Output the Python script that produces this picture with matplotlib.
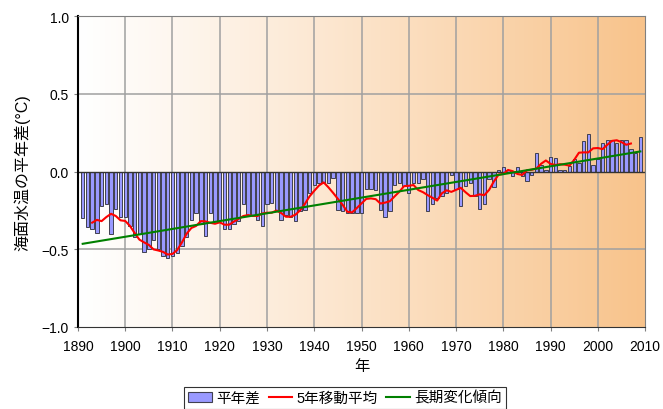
import numpy as np
import pandas as pd
import matplotlib
matplotlib.use("Agg")
import matplotlib.pyplot as plt
from matplotlib.patches import Patch
from matplotlib.lines import Line2D

plt.rcParams['font.family'] = ['Liberation Sans', 'Noto Sans CJK JP', 'DejaVu Sans']

years = list(range(1891, 2010))
anomaly = [
    -0.30, -0.36, -0.37, -0.395, -0.22, -0.21, -0.40, -0.24, -0.29, -0.29,   # 1891-1900
    -0.35, -0.42, -0.40, -0.52, -0.50, -0.44, -0.50, -0.545, -0.555, -0.545,  # 1901-1910
    -0.525, -0.48, -0.42, -0.31, -0.265, -0.34, -0.415, -0.265, -0.32, -0.31, # 1911-1920
    -0.37, -0.37, -0.34, -0.32, -0.21, -0.28, -0.28, -0.31, -0.35, -0.21,     # 1921-1930
    -0.20, -0.255, -0.31, -0.28, -0.29, -0.32, -0.255, -0.245, -0.14, -0.085, # 1931-1940
    -0.075, -0.075, -0.075, -0.04, -0.245, -0.255, -0.265, -0.265, -0.265, -0.265,  # 1941-1950
    -0.115, -0.115, -0.12, -0.25, -0.29, -0.255, -0.085, -0.075, -0.095, -0.14,     # 1951-1960
    -0.075, -0.075, -0.05, -0.255, -0.21, -0.17, -0.16, -0.14, -0.02, -0.115,       # 1961-1970
    -0.22, -0.095, -0.075, -0.16, -0.24, -0.21, -0.05, -0.10, 0.01, 0.03,          # 1971-1980
    0.01, -0.03, 0.03, -0.03, -0.06, -0.02, 0.12, 0.045, 0.01, 0.095,              # 1981-1990
    0.085, 0.01, 0.01, 0.035, 0.08, 0.055, 0.195, 0.24, 0.045, 0.08,               # 1991-2000
    0.185, 0.205, 0.205, 0.185, 0.205, 0.205, 0.145, 0.12, 0.225,                  # 2001-2009
]
xticks = list(range(1890, 2011, 10))
yticks = [-1.0, -0.5, 0.0, 0.5, 1.0]
ylabel = "海面水温の平年差(°C)"
xlabel = "年"
legend_labels = ["平年差", "5年移動平均", "長期変化傾向"]

yrs = np.array(years)
val = np.array(anomaly)
ma5 = pd.Series(val).rolling(5, center=True).mean().values
coef = np.polyfit(yrs, val, 1)
trend = np.polyval(coef, yrs)

fig = plt.figure(figsize=(6.63, 4.10), dpi=100)
ax = fig.add_axes([0.1176, 0.2, 0.973 - 0.1176, 0.9585 - 0.2])

# background gradient
grad = np.linspace(0, 1, 256).reshape(1, -1) ** 1.1
c0 = np.array([1.0, 1.0, 1.0])
c1 = np.array([0.973, 0.765, 0.545])
img = c0[None, None, :] * (1 - grad[..., None]) + c1[None, None, :] * grad[..., None]
ax.imshow(img, extent=[1890, 2010, -1.0, 1.0], aspect='auto', zorder=0)

for xt in xticks[1:-1]:
    ax.axvline(xt, color='#a0a0a0', lw=1.1, zorder=1)
for yt in [-0.5, 0.5]:
    ax.axhline(yt, color='#a0a0a0', lw=1.1, zorder=1)

ax.bar(yrs, val, width=0.72, color='#9999ff', edgecolor='#404050', linewidth=0.7, zorder=2)
ax.axhline(0, color='#333333', lw=1.0, zorder=2.5)
ax.plot(yrs, ma5, color='#ff0000', lw=1.5, zorder=3)
ax.plot(yrs, trend, color='#008000', lw=1.5, zorder=4)

ax.set_xlim(1890, 2010)
ax.set_ylim(-1.0, 1.0)
ax.set_xticks(xticks)
ax.set_yticks(yticks)
ax.set_yticklabels([f"{v:.1f}".replace("-", "\u2212") for v in yticks])
ax.tick_params(axis='both', labelsize=10, length=3, color='#808080')
ax.tick_params(axis='x', pad=6)
for s in ['top', 'right', 'bottom']:
    ax.spines[s].set_color('#808080')
ax.spines['bottom'].set_color('#333333')
ax.spines['left'].set_color('#000000')
ax.spines['left'].set_linewidth(1.5)

ax.set_ylabel(ylabel, fontsize=11.5, labelpad=8)
ax.set_xlabel(xlabel, fontsize=11, labelpad=4)

handles = [
    Patch(facecolor='#9999ff', edgecolor='#404050', linewidth=0.8),
    Line2D([], [], color='#ff0000', lw=1.5),
    Line2D([], [], color='#008000', lw=1.5),
]
leg = fig.legend(handles, legend_labels, ncol=3, loc='center',
                 bbox_to_anchor=(345 / 663, 1 - 399 / 410), fontsize=10.5,
                 frameon=True, fancybox=False, edgecolor='#000000',
                 handlelength=1.6, handletextpad=0.3, columnspacing=0.6,
                 borderpad=0.3)
leg.get_frame().set_linewidth(0.8)

fig.savefig("out.png", dpi=100)
